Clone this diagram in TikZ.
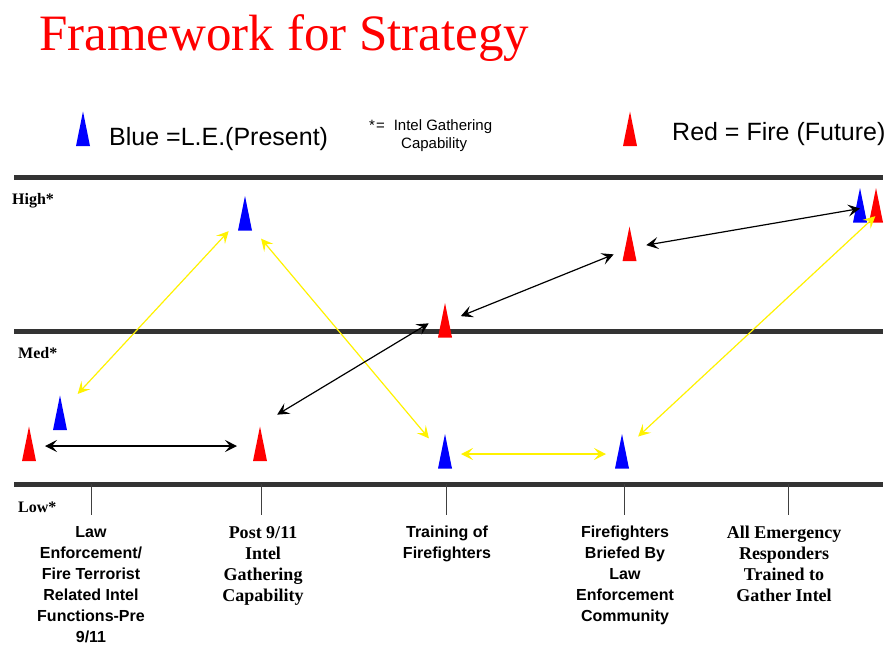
\documentclass[tikz,border=0pt]{standalone}
\usepackage{fontspec}
\setmainfont{Liberation Serif}
\setsansfont{Liberation Sans}
\usetikzlibrary{arrows.meta}

\tikzset{cone/.pic={\fill (-7,17) -- (0,-17.5) -- (7,17) -- cycle;}}

\begin{document}
\begin{tikzpicture}[x=1pt, y=-1pt, >={Stealth[length=12pt,width=12pt,inset=5pt]},
  band/.style={line width=5pt, draw=black!80},
  stem/.style={draw=black!75, line width=0.8pt},
  grade/.style={anchor=base west, inner sep=0pt, font=\fontsize{16}{18}\selectfont\bfseries},
  phase/.style={anchor=north, inner sep=0pt, align=center, font=\fontsize{16}{21}\selectfont\sffamily\bfseries},
  phaseserif/.style={phase, font=\fontsize{18}{21}\selectfont\bfseries},
  keytext/.style={anchor=base west, inner sep=0pt, font=\fontsize{25}{30}\selectfont\sffamily},
  tie/.style={<->, line width=1.2pt},
  lelink/.style={tie, draw=yellow},
  firelink/.style={tie, draw=black}]
\useasboundingbox (0,0) rectangle (891,646);

\node (title) [anchor=base west, inner sep=0pt, text=red, font=\fontsize{51}{60}\selectfont] at (39,50) {Framework for Strategy};

\coordinate (keyBlue) at (83,129);
\coordinate (keyRed) at (630,129);
\pic[blue] at (keyBlue) {cone};
\pic[red] at (keyRed) {cone};
\node (keyBlueTxt) [keytext] at (109,145) {Blue =L.E.(Present)};
\node (keyRedTxt) [keytext] at (672,140) {Red = Fire (Future)};
\node (keyStar) [anchor=base west, inner sep=0pt, font=\fontsize{15}{17}\selectfont\sffamily] at (369,130) {*\kern1pt=\kern9pt Intel Gathering};
\node (keyStarCap) [anchor=base west, inner sep=0pt, font=\fontsize{15}{17}\selectfont\sffamily] at (401,148) {Capability};

\foreach \y in {177.5,331,484}
  \draw[band] (14,\y) -- (883,\y);
\node (high) [grade] at (12,204) {High*};
\node (med) [grade] at (18,358) {Med*};
\node (low) [grade] at (18,512) {Low*};

\foreach \x in {91,261,446,624,788}
  \draw[stem] (\x,484) -- (\x,515);
\node (pre) [phase] at (91,526) {Law\\Enforcement/\\Fire Terrorist\\Related Intel\\Functions-Pre\\9/11};
\node (post) [phaseserif] at (263,526) {Post 9/11\\Intel\\Gathering\\Capability};
\node (train) [phase] at (447,526) {Training of\\Firefighters};
\node (brief) [phase] at (625,526) {Firefighters\\Briefed By\\Law\\Enforcement\\Community};
\node (all) [phaseserif] at (784,526) {All Emergency\\Responders\\Trained to\\Gather Intel};

\coordinate (firePre) at (29,444);
\coordinate (lePre) at (60,413);
\coordinate (lePost) at (245,213.5);
\coordinate (firePost) at (260,444);
\coordinate (fireTrain) at (445,320.5);
\coordinate (leTrain) at (445,451.5);
\coordinate (fireBrief) at (629.5,244);
\coordinate (leBrief) at (622,451.5);
\coordinate (leAll) at (860,205.5);
\coordinate (fireAll) at (876,205.5);
\foreach \n/\c in {firePre/red,lePre/blue,lePost/blue,firePost/red,fireTrain/red,
                   leTrain/blue,fireBrief/red,leBrief/blue,leAll/blue,fireAll/red}
  \pic[\c] at (\n) {cone};

\draw[firelink, shorten <=16pt, shorten >=23pt] ([yshift=-2pt]firePre) -- ([yshift=-2pt]firePost);
\draw[lelink, shorten <=26pt, shorten >=24pt] (lePre) -- (lePost);
\draw[lelink, shorten <=25pt, shorten >=25pt] ([yshift=-6pt]lePost) -- ([yshift=-6pt]leTrain);
\draw[firelink, shorten <=20pt, shorten >=19pt] ([yshift=19pt]firePost) -- ([yshift=7pt]fireTrain);
\draw[firelink, shorten <=17pt, shorten >=17pt] ([yshift=-2pt]fireTrain) -- ([yshift=-4pt]fireBrief);
\draw[firelink, shorten <=17pt] ([yshift=-4pt]fireBrief) -- ([yshift=-3pt]leAll);
\draw[lelink, shorten <=16pt, shorten >=16pt] ([yshift=-2.5pt]leTrain) -- ([yshift=-2.5pt]leBrief);
\draw[lelink, shorten <=22pt, shorten >=1pt] (leBrief) -- ([yshift=-10pt]fireAll);
\end{tikzpicture}
\end{document}
